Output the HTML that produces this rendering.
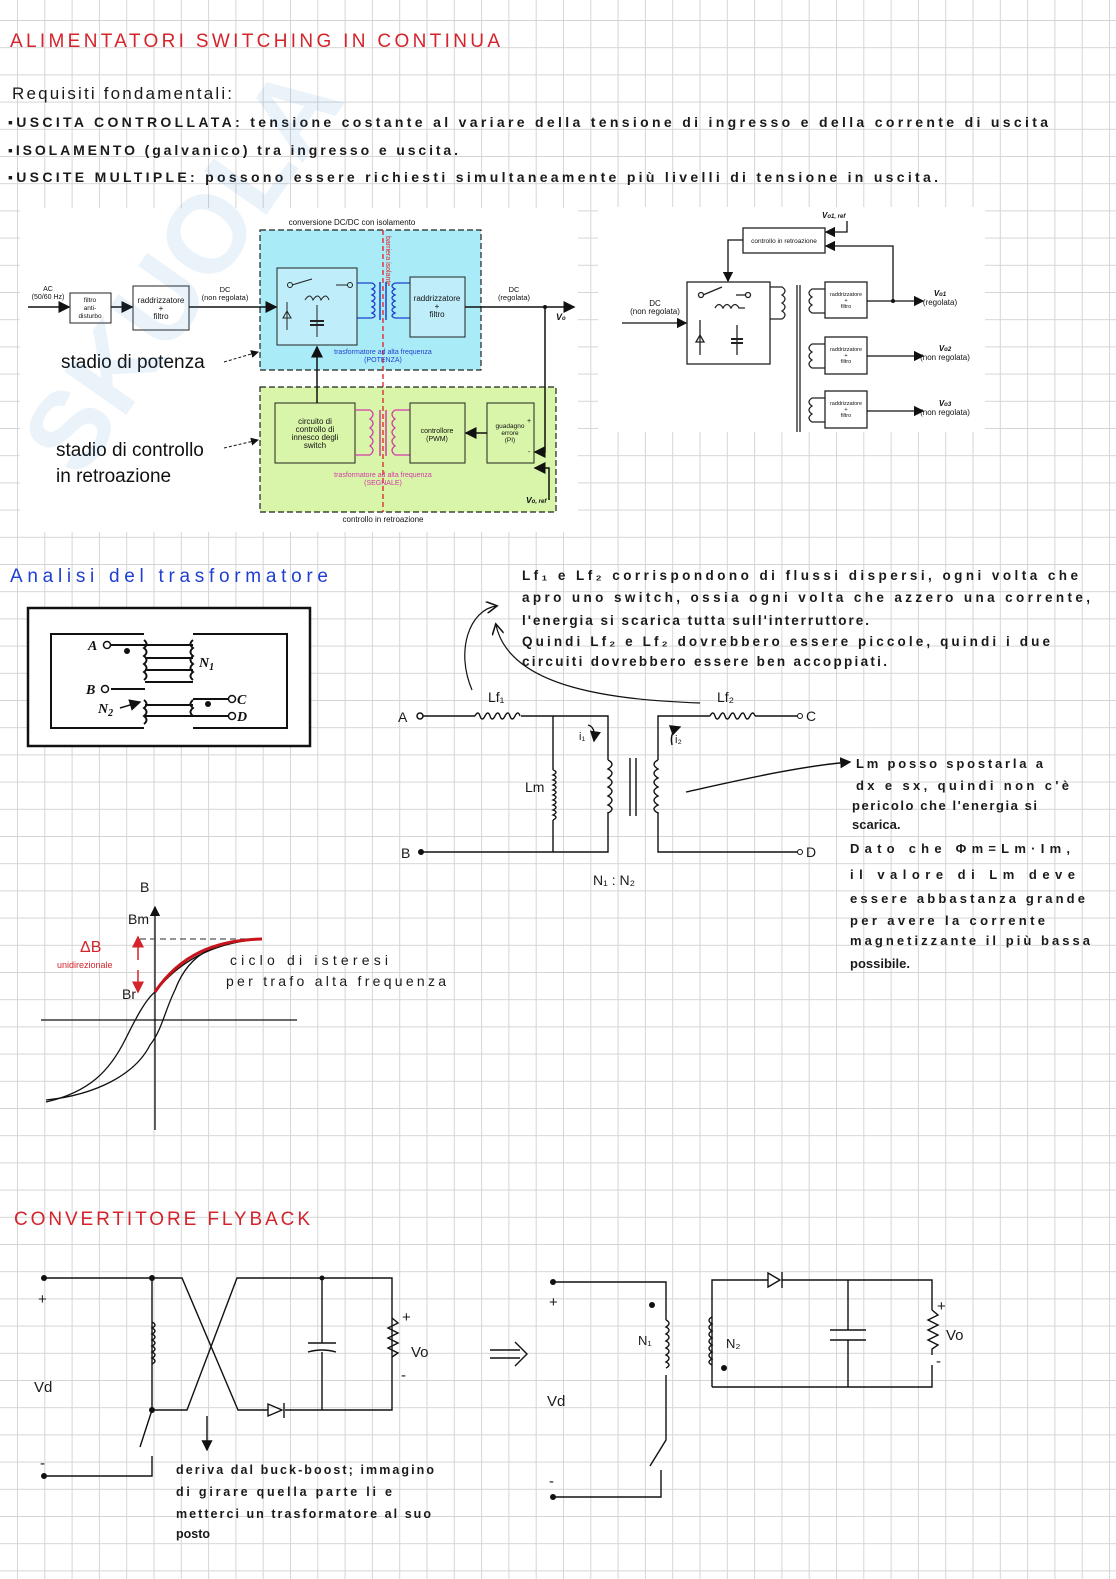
<!DOCTYPE html>
<html><head><meta charset="utf-8"><style>
html,body{margin:0;padding:0;background:#fff}
svg{display:block}
.h{font-family:"Liberation Sans",sans-serif;fill:#1a1a1a}
.r{fill:#d4232b}
.b{fill:#1f3fd0}
.s{font-family:"Liberation Sans",sans-serif;fill:#111}
</style></head><body>
<svg width="1116" height="1579" viewBox="0 0 1116 1579" xmlns="http://www.w3.org/2000/svg">
<defs>
<pattern id="g" x="17" y="20" width="27.3" height="27.2" patternUnits="userSpaceOnUse">
<path d="M0 0V27.2M0 0H27.3" stroke="#d6d6d6" stroke-width="2" fill="none"/>
</pattern>
<marker id="ar" markerWidth="8" markerHeight="8" refX="7" refY="4" orient="auto"><path d="M0 0L8 4L0 8z" fill="#111"/></marker>
<marker id="ao" markerWidth="10" markerHeight="10" refX="8" refY="5" orient="auto"><path d="M0 0L9 5L0 10" fill="none" stroke="#111" stroke-width="1.3"/></marker>
<marker id="arr" markerWidth="8" markerHeight="8" refX="7" refY="4" orient="auto"><path d="M0 0L8 4L0 8z" fill="#d4232b"/></marker>
</defs>
<rect width="1116" height="1579" fill="url(#g)"/>

<!-- header -->
<text x="10" y="47" class="h r" font-size="19" textLength="490" lengthAdjust="spacing">ALIMENTATORI  SWITCHING  IN  CONTINUA</text>
<text x="12" y="99" class="h" font-size="17" textLength="220" lengthAdjust="spacing">Requisiti  fondamentali:</text>
<g font-weight="bold">
<text x="8" y="127" class="h" font-size="14" textLength="1040" lengthAdjust="spacing">▪USCITA  CONTROLLATA: tensione  costante  al  variare  della  tensione  di  ingresso  e  della  corrente  di  uscita</text>
<text x="8" y="155" class="h" font-size="14" textLength="450" lengthAdjust="spacing">▪ISOLAMENTO (galvanico)  tra  ingresso  e  uscita.</text>
<text x="8" y="182" class="h" font-size="14" textLength="930" lengthAdjust="spacing">▪USCITE  MULTIPLE: possono  essere  richiesti  simultaneamente  più  livelli  di  tensione  in  uscita.</text>
</g>

<!-- Image 1 -->
<rect x="20" y="208" width="558" height="324" fill="#fff"/>
<g class="s">
<text x="352" y="225" font-size="8" text-anchor="middle">conversione DC/DC con isolamento</text>
<rect x="260" y="230" width="221" height="140" fill="#a9ecf7" stroke="#222" stroke-dasharray="6 3" stroke-width="1.2"/>
<rect x="260" y="387" width="296" height="125" fill="#d9f5a9" stroke="#222" stroke-dasharray="6 3" stroke-width="1.2"/>
<line x1="383" y1="230" x2="383" y2="512" stroke="#d22" stroke-dasharray="5 3" stroke-width="1.3"/>
<text x="386" y="236" font-size="7" fill="#d22" transform="rotate(90 386 236)">barriera isolante</text>
<rect x="277" y="268" width="80" height="77" fill="#bfeefa" stroke="#222"/>
<circle cx="290" cy="285" r="2.5" fill="none" stroke="#222"/><line x1="292" y1="285" x2="312" y2="279" stroke="#222"/><line x1="336" y1="285" x2="348" y2="285" stroke="#222"/><circle cx="350" cy="285" r="2.5" fill="none" stroke="#222"/>
<path d="M305 300q5-8 8 0q5-8 8 0q5-8 8 0" fill="none" stroke="#222"/>
<line x1="287" y1="302" x2="287" y2="330" stroke="#222"/><path d="M283 318h8l-4-7z" fill="none" stroke="#222"/>
<line x1="317" y1="305" x2="317" y2="337" stroke="#222"/><line x1="310" y1="321" x2="324" y2="321" stroke="#222" stroke-width="2"/><line x1="310" y1="325" x2="324" y2="325" stroke="#222" stroke-width="2"/>
<path d="M357 283h15M357 318h15M372 283q6 3 0 6q6 3 0 6q6 3 0 6q6 3 0 6q6 3 0 6q6 3 0 5" fill="none" stroke="#1f3fd0" stroke-width="1.3"/>
<line x1="380" y1="282" x2="380" y2="320" stroke="#1f3fd0" stroke-width="1.5"/><line x1="386" y1="282" x2="386" y2="320" stroke="#1f3fd0" stroke-width="1.5"/>
<path d="M410 283h-15M410 318h-15M395 283q-6 3 0 6q-6 3 0 6q-6 3 0 6q-6 3 0 6q-6 3 0 6q-6 3 0 5" fill="none" stroke="#1f3fd0" stroke-width="1.3"/>
<rect x="410" y="277" width="55" height="60" fill="#bfeefa" stroke="#222"/>
<text x="437" y="301" font-size="8" text-anchor="middle">raddrizzatore</text><text x="437" y="309" font-size="8" text-anchor="middle">+</text><text x="437" y="317" font-size="8" text-anchor="middle">filtro</text>
<text x="383" y="354" font-size="7" fill="#1f3fd0" text-anchor="middle">trasformatore ad alta frequenza</text>
<text x="383" y="362" font-size="7" fill="#1f3fd0" text-anchor="middle">(POTENZA)</text>
<text x="48" y="291" font-size="7" text-anchor="middle">AC</text><text x="48" y="299" font-size="7" text-anchor="middle">(50/60 Hz)</text>
<line x1="28" y1="307" x2="69" y2="307" stroke="#111" stroke-width="1.5" marker-end="url(#ar)"/>
<rect x="70" y="293" width="41" height="30" fill="#fff" stroke="#222"/>
<text x="90" y="302" font-size="6.5" text-anchor="middle">filtro</text><text x="90" y="310" font-size="6.5" text-anchor="middle">anti-</text><text x="90" y="318" font-size="6.5" text-anchor="middle">disturbo</text>
<line x1="111" y1="307" x2="132" y2="307" stroke="#111" stroke-width="1.5" marker-end="url(#ar)"/>
<rect x="133" y="286" width="56" height="44" fill="#fff" stroke="#222"/>
<text x="161" y="303" font-size="8" text-anchor="middle">raddrizzatore</text><text x="161" y="311" font-size="8" text-anchor="middle">+</text><text x="161" y="319" font-size="8" text-anchor="middle">filtro</text>
<text x="225" y="292" font-size="7.5" text-anchor="middle">DC</text><text x="225" y="300" font-size="7.5" text-anchor="middle">(non regolata)</text>
<line x1="189" y1="307" x2="276" y2="307" stroke="#111" stroke-width="1.5" marker-end="url(#ar)"/>
<line x1="465" y1="307" x2="574" y2="307" stroke="#111" stroke-width="1.5" marker-end="url(#ar)"/>
<text x="514" y="292" font-size="7.5" text-anchor="middle">DC</text><text x="514" y="300" font-size="7.5" text-anchor="middle">(regolata)</text>
<text x="556" y="320" font-size="9" font-style="italic" font-weight="bold">V<tspan font-size="6">o</tspan></text>
<circle cx="545" cy="307" r="2" fill="#111"/>
<path d="M545 307V452h-10" fill="none" stroke="#111" stroke-width="1.5" marker-end="url(#ar)"/>
<path d="M549 500V468h-14" fill="none" stroke="#111" stroke-width="1.5" marker-end="url(#ar)"/>
<rect x="275" y="403" width="80" height="60" fill="#d9f5a9" stroke="#222"/>
<text x="315" y="424" font-size="8" text-anchor="middle">circuito di</text><text x="315" y="432" font-size="8" text-anchor="middle">controllo di</text><text x="315" y="440" font-size="8" text-anchor="middle">innesco degli</text><text x="315" y="448" font-size="8" text-anchor="middle">switch</text>
<line x1="317" y1="403" x2="317" y2="347" stroke="#111" stroke-width="1.5" marker-end="url(#ar)"/>
<path d="M355 410h15M355 455h15M370 410q6 4 0 9q6 4 0 9q6 4 0 9q6 4 0 9q6 4 0 9" fill="none" stroke="#d23aa8" stroke-width="1.3"/>
<line x1="380" y1="410" x2="380" y2="456" stroke="#d23aa8" stroke-width="1.5"/><line x1="386" y1="410" x2="386" y2="456" stroke="#d23aa8" stroke-width="1.5"/>
<path d="M410 410h-15M410 455h-15M395 410q-6 4 0 9q-6 4 0 9q-6 4 0 9q-6 4 0 9q-6 4 0 9" fill="none" stroke="#d23aa8" stroke-width="1.3"/>
<rect x="410" y="403" width="55" height="60" fill="#d9f5a9" stroke="#222"/>
<text x="437" y="433" font-size="7" text-anchor="middle">controllore</text><text x="437" y="441" font-size="7" text-anchor="middle">(PWM)</text>
<rect x="487" y="403" width="47" height="60" fill="#d9f5a9" stroke="#222"/>
<text x="510" y="428" font-size="6.5" text-anchor="middle">guadagno</text><text x="510" y="435" font-size="6.5" text-anchor="middle">errore</text><text x="510" y="442" font-size="6.5" text-anchor="middle">(PI)</text>
<text x="527" y="423" font-size="7">+</text><text x="528" y="454" font-size="7">-</text>
<line x1="487" y1="433" x2="466" y2="433" stroke="#111" stroke-width="1.5" marker-end="url(#ar)"/>
<text x="383" y="477" font-size="7" fill="#d23aa8" text-anchor="middle">trasformatore ad alta frequenza</text>
<text x="383" y="485" font-size="7" fill="#d23aa8" text-anchor="middle">(SEGNALE)</text>
<text x="526" y="503" font-size="8.5" font-style="italic" font-weight="bold">V<tspan font-size="6">o, ref</tspan></text>
<text x="383" y="522" font-size="8" text-anchor="middle">controllo in retroazione</text>
<text x="61" y="368" font-size="19">stadio di potenza</text>
<line x1="224" y1="362" x2="258" y2="352" stroke="#111" stroke-dasharray="3 2" marker-end="url(#ar)"/>
<text x="56" y="456" font-size="19">stadio di controllo</text>
<text x="56" y="482" font-size="19">in retroazione</text>
<line x1="224" y1="448" x2="258" y2="440" stroke="#111" stroke-dasharray="3 2" marker-end="url(#ar)"/>
</g>

<!-- watermark -->
<g opacity="0.09" transform="rotate(-55 170 300)">
<text x="-30" y="330" font-family="Liberation Sans" font-weight="bold" font-size="110" fill="#2a7fd0">SKUOLA</text>
</g>

<!-- Image 2 -->
<rect x="598" y="207" width="387" height="225" fill="#fff"/>
<g class="s" stroke-width="1.3">
<text x="822" y="218" font-size="8" font-style="italic" font-weight="bold">V<tspan font-size="6">o1, ref</tspan></text>
<rect x="743" y="228" width="82" height="25" fill="#fff" stroke="#222"/>
<text x="784" y="243" font-size="6.5" text-anchor="middle">controllo in retroazione</text>
<path d="M847 221V232h-21" fill="none" stroke="#111" stroke-width="1.3" marker-end="url(#ar)"/>
<path d="M893 301V246h-67" fill="none" stroke="#111" stroke-width="1.3" marker-end="url(#ar)"/>
<path d="M743 240h-15V281" fill="none" stroke="#111" stroke-width="1.3" marker-end="url(#ar)"/>
<rect x="687" y="282" width="83" height="82" fill="#fff" stroke="#222"/>
<circle cx="701" cy="295" r="2.5" fill="none" stroke="#222"/><line x1="703" y1="295" x2="722" y2="287" stroke="#222"/><line x1="736" y1="295" x2="746" y2="295" stroke="#222"/><circle cx="748" cy="295" r="2.5" fill="none" stroke="#222"/>
<path d="M715 308q4-7 8 0q4-7 8 0q4-7 8 0h6" fill="none" stroke="#222"/>
<line x1="700" y1="320" x2="700" y2="355" stroke="#222"/><path d="M696 342h8l-4-7z" fill="none" stroke="#222"/>
<line x1="737" y1="325" x2="737" y2="355" stroke="#222"/><line x1="731" y1="339" x2="743" y2="339" stroke="#222" stroke-width="2"/><line x1="731" y1="343" x2="743" y2="343" stroke="#222" stroke-width="2"/>
<text x="655" y="306" font-size="8" text-anchor="middle">DC</text><text x="655" y="314" font-size="8" text-anchor="middle">(non regolata)</text>
<line x1="622" y1="323" x2="686" y2="323" stroke="#111" stroke-width="1.3" marker-end="url(#ar)"/>
<path d="M770 287h12q6 4 0 8q6 4 0 8q6 4 0 8q6 4 0 8v0h-12" fill="none" stroke="#222"/>
<line x1="797" y1="285" x2="797" y2="432" stroke="#222" stroke-width="1.3"/><line x1="800" y1="285" x2="800" y2="432" stroke="#222" stroke-width="1.3"/>
<g fill="none" stroke="#222">
<path d="M825 289h-13q-6 4 0 8q-6 4 0 8q-6 4 0 8h13"/>
<path d="M825 344h-13q-6 4 0 8q-6 4 0 8q-6 4 0 8h13"/>
<path d="M825 398h-13q-6 4 0 8q-6 4 0 8q-6 4 0 8h13"/>
</g>
<rect x="825" y="282" width="42" height="36" fill="#fff" stroke="#222"/>
<rect x="825" y="337" width="42" height="37" fill="#fff" stroke="#222"/>
<rect x="825" y="391" width="42" height="37" fill="#fff" stroke="#222"/>
<g font-size="5.5" text-anchor="middle"><text x="846" y="296">raddrizzatore</text><text x="846" y="302">+</text><text x="846" y="308">filtro</text>
<text x="846" y="351">raddrizzatore</text><text x="846" y="357">+</text><text x="846" y="363">filtro</text>
<text x="846" y="405">raddrizzatore</text><text x="846" y="411">+</text><text x="846" y="417">filtro</text></g>
<line x1="867" y1="301" x2="923" y2="301" stroke="#111" stroke-width="1.3" marker-end="url(#ar)"/><circle cx="893" cy="301" r="2" fill="#111"/>
<line x1="867" y1="356" x2="923" y2="356" stroke="#111" stroke-width="1.3" marker-end="url(#ar)"/>
<line x1="867" y1="411" x2="923" y2="411" stroke="#111" stroke-width="1.3" marker-end="url(#ar)"/>
<g font-size="8" text-anchor="middle"><text x="940" y="296" font-style="italic" font-weight="bold">V<tspan font-size="6">o1</tspan></text><text x="940" y="305">(regolata)</text>
<text x="945" y="351" font-style="italic" font-weight="bold">V<tspan font-size="6">o2</tspan></text><text x="945" y="360">(non regolata)</text>
<text x="945" y="406" font-style="italic" font-weight="bold">V<tspan font-size="6">o3</tspan></text><text x="945" y="415">(non regolata)</text></g>
</g>

<!-- Analisi del trasformatore -->
<text x="10" y="582" class="h b" font-size="19" textLength="318" lengthAdjust="spacing">Analisi  del  trasformatore</text>
<rect x="28" y="608" width="282" height="138" fill="#fff" stroke="#111" stroke-width="2.5"/>
<g stroke="#111" stroke-width="2" fill="none">
<path d="M144 634H51V728H144"/><path d="M193 634H287V728H193"/>
<path d="M111 645H193M145 658H193M145 670H193M145 682H193M111 689H145M193 699H230M145 705H193M145 716H230"/>
<path d="M144 640q5 4 0 8q5 4 0 8q5 4 0 8q5 4 0 8q5 4 0 8M144 700q5 4 0 8q5 4 0 8q5 4 0 8"/>
<path d="M193 640q-5 4 0 8q-5 4 0 8q-5 4 0 8q-5 4 0 8q-5 4 0 8M193 700q-5 4 0 8q-5 4 0 8"/>
</g>
<g fill="#fff" stroke="#111" stroke-width="1.5"><circle cx="107" cy="645" r="3.5"/><circle cx="105" cy="689" r="3.5"/><circle cx="232" cy="699" r="3.5"/><circle cx="232" cy="716" r="3.5"/></g>
<circle cx="127" cy="651" r="3" fill="#111"/><circle cx="208" cy="704" r="3" fill="#111"/>
<g font-family="Liberation Serif" font-style="italic" font-weight="bold" font-size="14" fill="#111">
<text x="88" y="650">A</text><text x="86" y="694">B</text><text x="237" y="704">C</text><text x="237" y="721">D</text><text x="199" y="667">N<tspan font-size="10" dy="3">1</tspan></text><text x="98" y="713">N<tspan font-size="10" dy="3">2</tspan></text></g>
<line x1="120" y1="708" x2="140" y2="702" stroke="#111" stroke-width="1.5" marker-end="url(#ar)"/>

<!-- notes -->
<g class="h" font-size="13.5" font-weight="bold">
<text x="522" y="580" textLength="556" lengthAdjust="spacing">Lf₁  e  Lf₂  corrispondono  di  flussi  dispersi,  ogni  volta  che</text>
<text x="522" y="602" textLength="568" lengthAdjust="spacing">apro uno switch, ossia  ogni  volta  che  azzero  una  corrente,</text>
<text x="522" y="625" textLength="347" lengthAdjust="spacing">l'energia  si  scarica  tutta  sull'interruttore.</text>
<text x="522" y="646" textLength="528" lengthAdjust="spacing">Quindi  Lf₂  e  Lf₂  dovrebbero  essere  piccole, quindi  i  due</text>
<text x="522" y="666" textLength="365" lengthAdjust="spacing">circuiti  dovrebbero  essere  ben  accoppiati.</text>
</g>
<path d="M472 690C455 650 470 610 496 606" fill="none" stroke="#111" stroke-width="1.2" marker-end="url(#ao)"/>
<path d="M700 703C620 700 510 690 496 625" fill="none" stroke="#111" stroke-width="1.2" marker-end="url(#ao)"/>

<g stroke="#111" stroke-width="1.4" fill="none">
<path d="M423 716H475M521 716H608V760M608 812V852H423"/>
<path d="M475 716q3 -6 5 0t5 0t5 0t5 0t5 0t5 0t5 0t5 0t5 0"/>
<path d="M553 716V770M553 820V852"/>
<path d="M553 770q6 2 0 5q6 2 0 5q6 2 0 5q6 2 0 5q6 2 0 5q6 2 0 5q6 2 0 5q6 2 0 5q6 2 0 5q6 2 0 5"/>
<path d="M608 760q8 4 0 9q8 4 0 9q8 4 0 9q8 4 0 9q8 4 0 9q8 4 0 8"/>
<line x1="630" y1="758" x2="630" y2="816"/><line x1="636" y1="758" x2="636" y2="816"/>
<path d="M658 760q-8 4 0 9q-8 4 0 9q-8 4 0 9q-8 4 0 9q-8 4 0 9q-8 4 0 8"/>
<path d="M658 760V716H710M755 716H798M658 812V852H798"/>
<path d="M710 716q3 -6 5 0t5 0t5 0t5 0t5 0t5 0t5 0t5 0t5 0"/>
<path d="M588 725q8 2 6 16" marker-end="url(#ar)"/>
<path d="M672 745q-3-14 8-18" marker-end="url(#ar)"/>
<path d="M686 792C740 780 800 766 850 762" marker-end="url(#ar)"/>
</g>
<circle cx="420" cy="716" r="3" fill="none" stroke="#111" stroke-width="1.5"/>
<circle cx="421" cy="852" r="3" fill="#111"/>
<circle cx="800" cy="716" r="2.5" fill="none" stroke="#111"/><circle cx="800" cy="852" r="2.5" fill="none" stroke="#111"/>
<g class="h" font-size="14">
<text x="398" y="722">A</text><text x="401" y="858">B</text><text x="806" y="721">C</text><text x="806" y="857">D</text>
<text x="488" y="702">Lf₁</text><text x="717" y="702">Lf₂</text><text x="525" y="792">Lm</text>
<text x="579" y="740" font-size="11">i₁</text><text x="675" y="743" font-size="11">i₂</text>
<text x="593" y="885">N₁ : N₂</text>
</g>
<g class="h" font-size="13" font-weight="bold">
<text x="856" y="768" textLength="187" lengthAdjust="spacing">Lm   posso  spostarla  a</text>
<text x="856" y="790" textLength="213" lengthAdjust="spacing">dx  e  sx, quindi  non  c'è</text>
<text x="852" y="810" textLength="185" lengthAdjust="spacing">pericolo  che  l'energia  si</text>
<text x="852" y="829">scarica.</text>
<text x="850" y="853" textLength="220" lengthAdjust="spacing">Dato  che  Φm=Lm·Im,</text>
<text x="850" y="879" textLength="225" lengthAdjust="spacing">il  valore  di  Lm  deve</text>
<text x="850" y="903" textLength="235" lengthAdjust="spacing">essere  abbastanza  grande</text>
<text x="850" y="925" textLength="195" lengthAdjust="spacing">per  avere  la  corrente</text>
<text x="850" y="945" textLength="240" lengthAdjust="spacing">magnetizzante  il  più  bassa</text>
<text x="850" y="968">possibile.</text>
</g>

<!-- hysteresis -->
<g stroke="#111" stroke-width="1.3" fill="none">
<line x1="155" y1="1130" x2="155" y2="907" marker-end="url(#ar)"/>
<line x1="41" y1="1020" x2="297" y2="1020"/>
<line x1="140" y1="939" x2="262" y2="939" stroke-dasharray="6 4" stroke="#555"/>
<path d="M46 1102C90 1092 110 1070 125 1040C135 1020 145 1000 155 992C180 960 215 942 262 939"/>
<path d="M46 1100C95 1095 135 1075 150 1045C162 1030 165 1010 175 990C190 950 220 940 262 939"/>
<path d="M155 992C180 955 215 940 262 939" stroke="#c8121c" stroke-width="3"/>
</g>
<line x1="138" y1="960" x2="138" y2="937" stroke="#d4232b" stroke-width="1.5" marker-end="url(#arr)"/>
<line x1="138" y1="970" x2="138" y2="992" stroke="#d4232b" stroke-width="1.5" marker-end="url(#arr)"/>
<g class="h" font-size="14">
<text x="140" y="892">B</text><text x="128" y="924">Bm</text><text x="122" y="999">Br</text>
<text x="230" y="965" textLength="158" lengthAdjust="spacing">ciclo  di  isteresi</text>
<text x="226" y="986" textLength="220" lengthAdjust="spacing">per  trafo  alta  frequenza</text>
<text x="80" y="952" class="r" font-size="16">ΔB</text>
<text x="57" y="968" class="r" font-size="9">unidirezionale</text>
</g>

<!-- Flyback -->
<text x="14" y="1225" class="h r" font-size="19" textLength="296" lengthAdjust="spacing">CONVERTITORE  FLYBACK</text>
<g stroke="#111" stroke-width="1.4" fill="none">
<path d="M44 1278H182L238 1410H268M285 1410H392V1278H237L187 1410H152V1278"/>
<path d="M268 1404V1416L282 1410Z"/><line x1="284" y1="1403" x2="284" y2="1418"/>
<path d="M152 1322q6 3 0 6q6 3 0 6q6 3 0 6q6 3 0 6q6 3 0 6q6 3 0 6q6 3 0 6"/>
<path d="M322 1278V1343M322 1352V1410M308 1343h28M308 1352q14-4 28 0"/>
<path d="M392 1318l6 5l-10 5l10 5l-10 5l10 5l-10 5l10 5l-6 4"/>
<path d="M152 1410L140 1447M152 1456V1476H44"/>
<path d="M207 1416V1450" marker-end="url(#ar)"/>
<path d="M490 1350h30M490 1358h30M515 1342l12 12l-12 12"/>
<path d="M553 1282H666V1320M666 1375V1440L650 1466M661 1470V1497H553"/>
<path d="M666 1320q6 3 0 7q6 3 0 7q6 3 0 7q6 3 0 7q6 3 0 7q6 3 0 7q6 3 0 6"/>
<path d="M712 1387V1280H768M782 1280H932V1310M932 1365V1387H712"/>
<path d="M768 1273V1287L780 1280Z"/><line x1="782" y1="1272" x2="782" y2="1288"/>
<path d="M712 1317q-6 3 0 7q-6 3 0 7q-6 3 0 7q-6 3 0 7q-6 3 0 7q-6 3 0 7q-6 3 0 6"/>
<path d="M848 1280V1330M848 1340V1387M830 1330h36M830 1340h36"/>
<path d="M932 1310l6 5l-10 5l10 5l-10 5l10 5l-10 5l10 5l-6 4v6"/>
</g>
<g fill="#111"><circle cx="44" cy="1278" r="3"/><circle cx="152" cy="1278" r="3"/><circle cx="322" cy="1278" r="2.5"/><circle cx="152" cy="1410" r="3"/><circle cx="44" cy="1476" r="3"/>
<circle cx="553" cy="1282" r="3"/><circle cx="553" cy="1497" r="3"/><circle cx="652" cy="1305" r="3"/><circle cx="724" cy="1368" r="3"/></g>
<g class="h" font-size="15">
<text x="38" y="1304">+</text><text x="34" y="1392">Vd</text><text x="40" y="1468">-</text>
<text x="402" y="1322">+</text><text x="411" y="1357">Vo</text><text x="401" y="1380">-</text>
<text x="549" y="1307">+</text><text x="547" y="1406">Vd</text><text x="549" y="1486">-</text>
<text x="638" y="1345" font-size="13">N₁</text><text x="726" y="1348" font-size="13">N₂</text>
<text x="937" y="1311">+</text><text x="946" y="1340">Vo</text><text x="936" y="1366">-</text>
</g>
<g class="h" font-size="12.5" font-weight="bold">
<text x="176" y="1474" textLength="258" lengthAdjust="spacing">deriva  dal  buck-boost; immagino</text>
<text x="176" y="1496" textLength="216" lengthAdjust="spacing">di  girare  quella  parte  li  e</text>
<text x="176" y="1518" textLength="255" lengthAdjust="spacing">metterci  un  trasformatore  al  suo</text>
<text x="176" y="1538">posto</text>
</g>
</svg>
</body></html>
